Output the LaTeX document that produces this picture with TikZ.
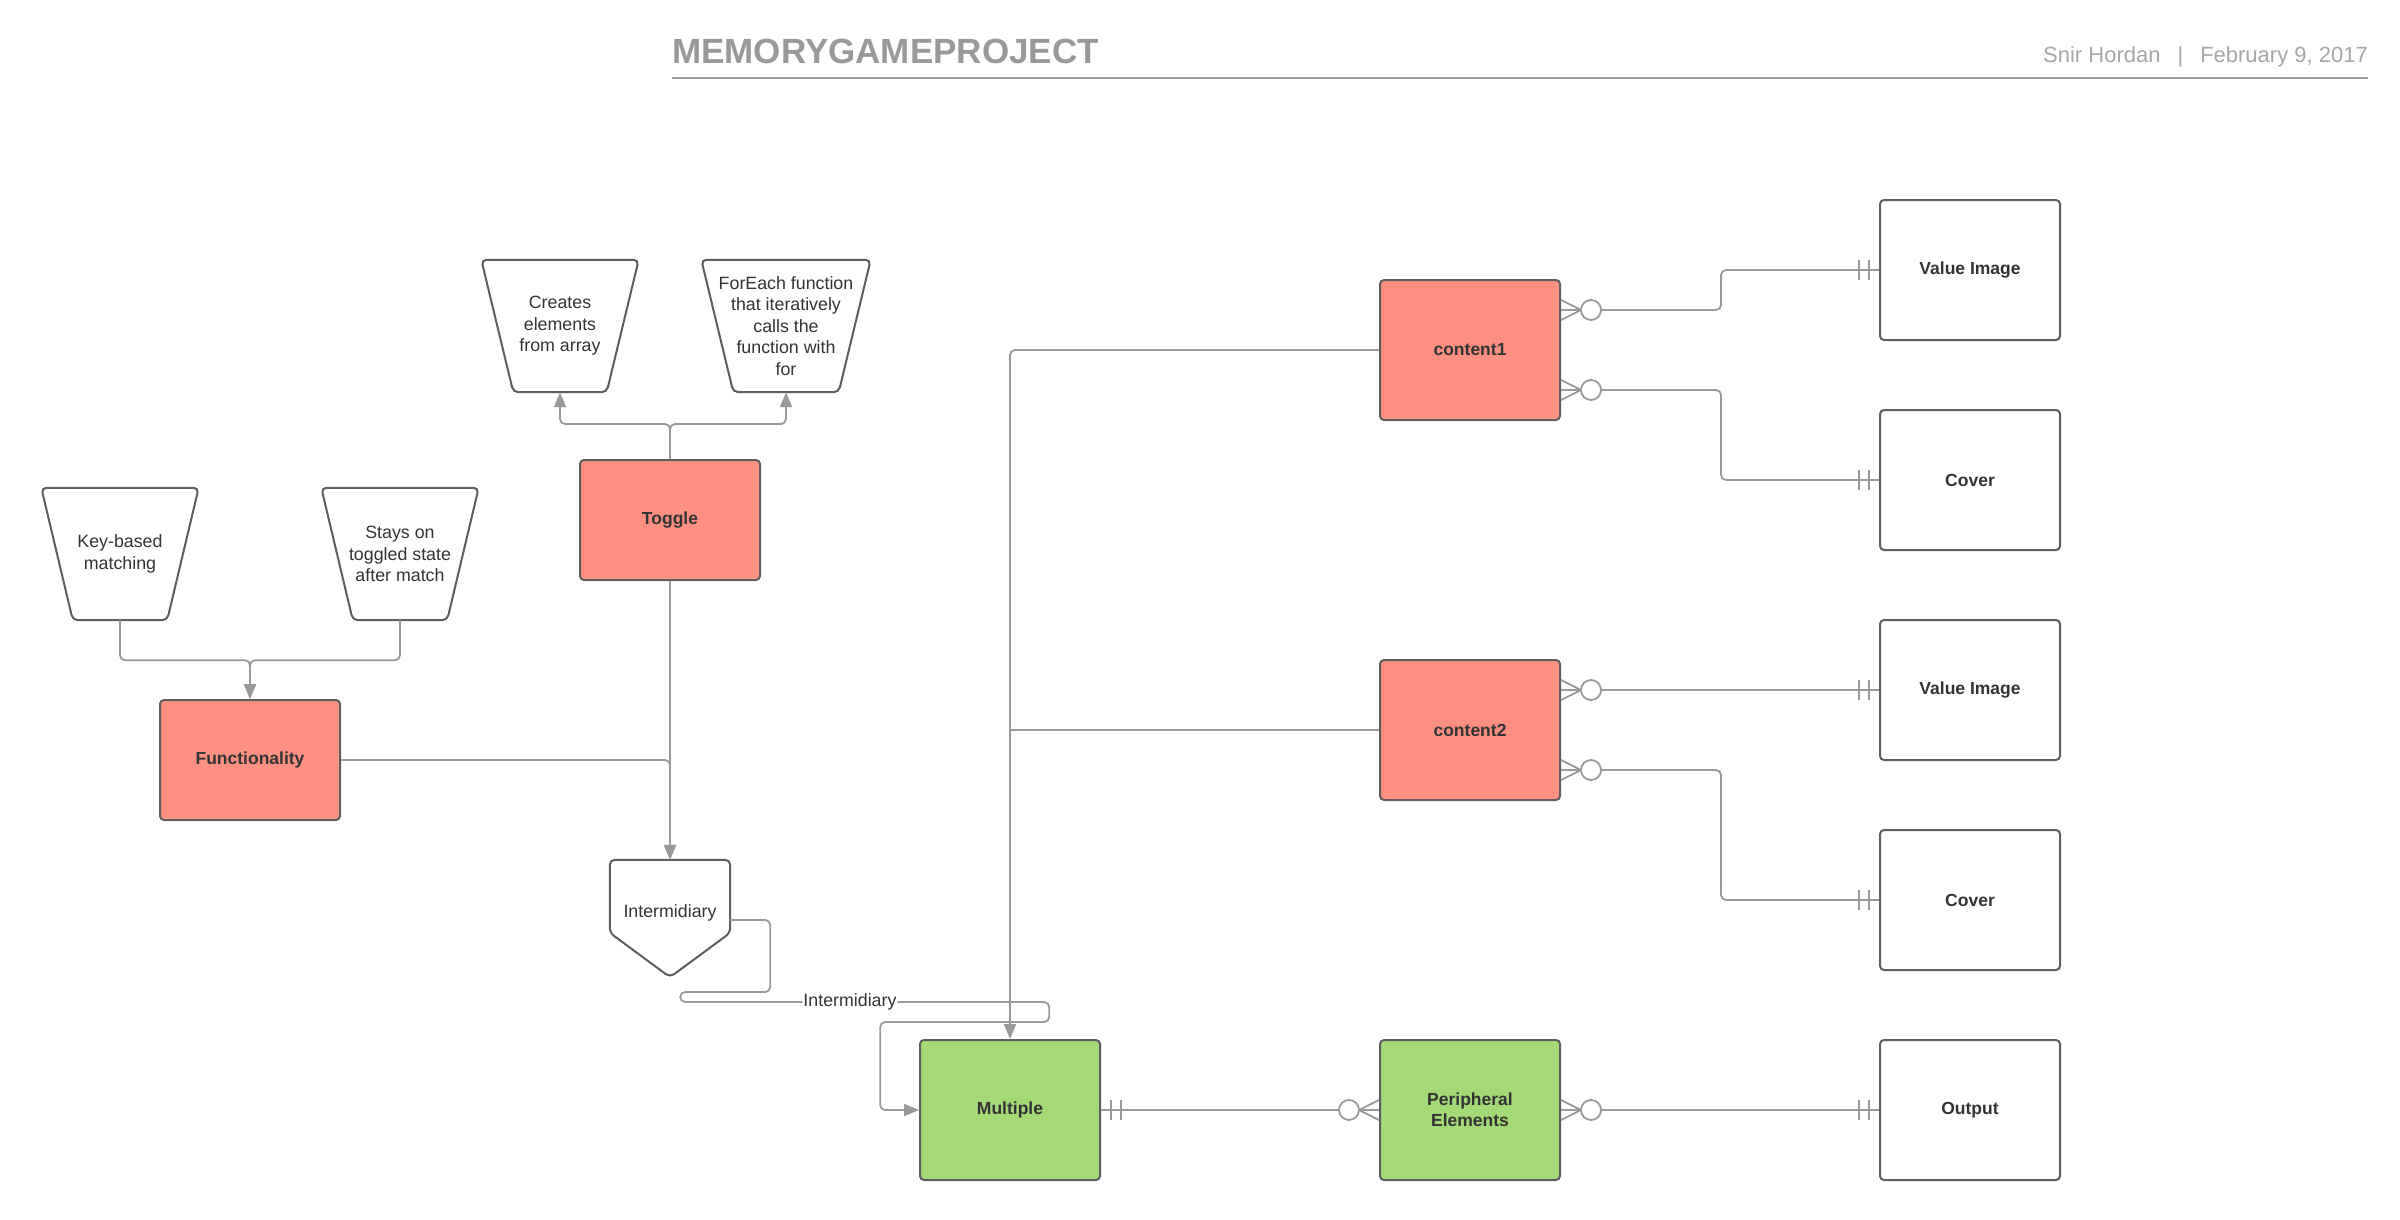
\documentclass[tikz,border=0pt]{standalone}
\usepackage{fontspec}
\setmainfont{Liberation Sans}
\usetikzlibrary{calc,arrows.meta}
\definecolor{conncol}{HTML}{999999}
\definecolor{edgecol}{HTML}{5E5E5E}
\definecolor{txtcol}{HTML}{333333}
\definecolor{salmon}{HTML}{FF8F80}
\definecolor{leaf}{HTML}{A3D977}
\definecolor{headcol}{HTML}{999999}
\definecolor{subcol}{HTML}{A6A6A6}
\tikzset{
  conn/.style={draw=conncol, line width=1.8pt},
  arr/.style={conn, -{Triangle[length=15pt,width=12pt]}},
  shapeline/.style={draw=edgecol, line width=2pt},
  box/.style={shapeline, rounded corners=4pt, minimum width=180pt, minimum height=140pt,
    text=txtcol, font=\fontsize{17.5}{21}\selectfont\bfseries, align=center, inner sep=0pt},
  redbox/.style={box, fill=salmon},
  greenbox/.style={box, fill=leaf},
  trapnode/.style={minimum width=157pt, minimum height=132pt, inner sep=0pt,
    text=txtcol, font=\fontsize{17.8}{21.5}\selectfont, align=center},
}
\newcommand\TrapOutline[2]{\draw[shapeline, rounded corners=5pt] (#1.north west) -- (#1.north east) -- ($(#1.south east)+(-#2,0)$) -- ($(#1.south west)+(#2,0)$) -- cycle;}
\newcommand\ErBars[2]{\draw[conn] ($#1+(#2*10,-10)$) -- ++(0,20) ($#1+(#2*20,-10)$) -- ++(0,20);}
\newcommand\ErMany[2]{\draw[conn] ($#1+(0,-10)$) -- ($#1+(#2*20,0)$) -- ($#1+(0,10)$);
  \draw[conn, fill=white] ($#1+(#2*30,0)$) circle[radius=10pt];}
\begin{document}
\begin{tikzpicture}[x=1pt,y=-1pt]
\useasboundingbox (0,0) rectangle (2400,1220);
% header
\node[anchor=base west, text=headcol, font=\fontsize{35}{40}\selectfont\bfseries, inner sep=0pt] (title) at (672,64) {MEMORYGAMEPROJECT};
\node[anchor=base east, text=subcol, font=\fontsize{22}{26}\selectfont, inner sep=0pt] (meta) at (2368,63) {Snir Hordan\hspace{17pt}|\hspace{17pt}February 9, 2017};
\coordinate (hl) at (672,78);
\coordinate (hr) at (2368,78);
\draw[draw=headcol, line width=2pt] (hl) -- (hr);

% trapezoids
\node[trapnode] (kb) at (120,554) {Key-based\\matching};
\node[trapnode] (st) at (400,554) {Stays on\\toggled state\\after match};
\node[trapnode] (cr) at (560,326) {Creates\\elements\\from array};
\node[trapnode, minimum width=169pt] (fe) at (786,326) {ForEach function\\that iteratively\\calls the\\function with\\for};
\TrapOutline{kb}{31.5}
\TrapOutline{st}{31.5}
\TrapOutline{cr}{32}
\TrapOutline{fe}{32}

% boxes
\node[redbox, minimum height=120pt] (func) at (250,760) {Functionality};
\node[redbox, minimum height=120pt] (tog) at (670,520) {Toggle};
\node[redbox] (c1) at (1470,350) {content1};
\node[redbox] (c2) at (1470,730) {content2};
\node[greenbox] (mult) at (1010,1110) {Multiple};
\node[greenbox] (peri) at (1470,1110) {Peripheral\\Elements};
\node[box] (vi1) at (1970,270) {Value Image};
\node[box] (cov1) at (1970,480) {Cover};
\node[box] (vi2) at (1970,690) {Value Image};
\node[box] (cov2) at (1970,900) {Cover};
\node[box] (out) at (1970,1110) {Output};

% intermidiary pentagon
\node[minimum width=120pt, minimum height=106pt, inner sep=0pt, text=txtcol, font=\fontsize{17.8}{21.5}\selectfont] (inter) at (670,913) {Intermidiary};
\draw[shapeline, rounded corners=5pt] (inter.north west) -- (inter.north east) -- ($(inter.north east)+(0,73)$) -- ($(inter.south)+(0,11)$) -- ($(inter.north west)+(0,73)$) -- cycle;

% connectors left part
\draw[arr, rounded corners=5pt] (kb.south) -- ++(0,40) -| (func.north);
\draw[arr, rounded corners=5pt] (st.south) -- ++(0,40) -| (func.north);
\draw[arr, rounded corners=5pt] (tog.north) -- ++(0,-35) -| (cr.south);
\draw[arr, rounded corners=5pt] (tog.north) -- ++(0,-35) -| (fe.south);
\draw[arr] (tog.south) -- (inter.north);
\draw[arr, rounded corners=5pt] (func.east) -| (inter.north);
\draw[arr, rounded corners=5pt] ($(inter.east)+(0,7)$) -- ++(40,0) -- ++(0,72) -- ++(-90,0) -- ++(0,10)
  -- ++(369,0) node[pos=0.46, fill=white, inner sep=1pt, text=txtcol, font=\fontsize{17.8}{21.5}\selectfont] (ilab) {Intermidiary}
  -- ++(0,20) -- ++(-169,0) |- (mult.west);
\draw[arr, rounded corners=5pt] (c1.west) -| (mult.north);
\draw[conn] (c2.west) -- (c2.west -| mult.north);

% ER connectors
\coordinate (c1a) at ($(c1.east)+(0,-40)$);
\coordinate (c1b) at ($(c1.east)+(0,40)$);
\coordinate (c2a) at ($(c2.east)+(0,-40)$);
\coordinate (c2b) at ($(c2.east)+(0,40)$);
\draw[conn, rounded corners=5pt] (c1a) -- ++(160,0) |- (vi1.west);
\draw[conn, rounded corners=5pt] (c1b) -- ++(160,0) |- (cov1.west);
\draw[conn] (c2a) -- (vi2.west);
\draw[conn, rounded corners=5pt] (c2b) -- ++(160,0) |- (cov2.west);
\draw[conn] (mult.east) -- (peri.west);
\draw[conn] (peri.east) -- (out.west);

\ErMany{(c1a)}{1}
\ErMany{(c1b)}{1}
\ErMany{(c2a)}{1}
\ErMany{(c2b)}{1}
\ErMany{(peri.east)}{1}
\ErMany{(peri.west)}{-1}
\ErBars{(vi1.west)}{-1}
\ErBars{(cov1.west)}{-1}
\ErBars{(vi2.west)}{-1}
\ErBars{(cov2.west)}{-1}
\ErBars{(out.west)}{-1}
\ErBars{(mult.east)}{1}
\end{tikzpicture}
\end{document}
